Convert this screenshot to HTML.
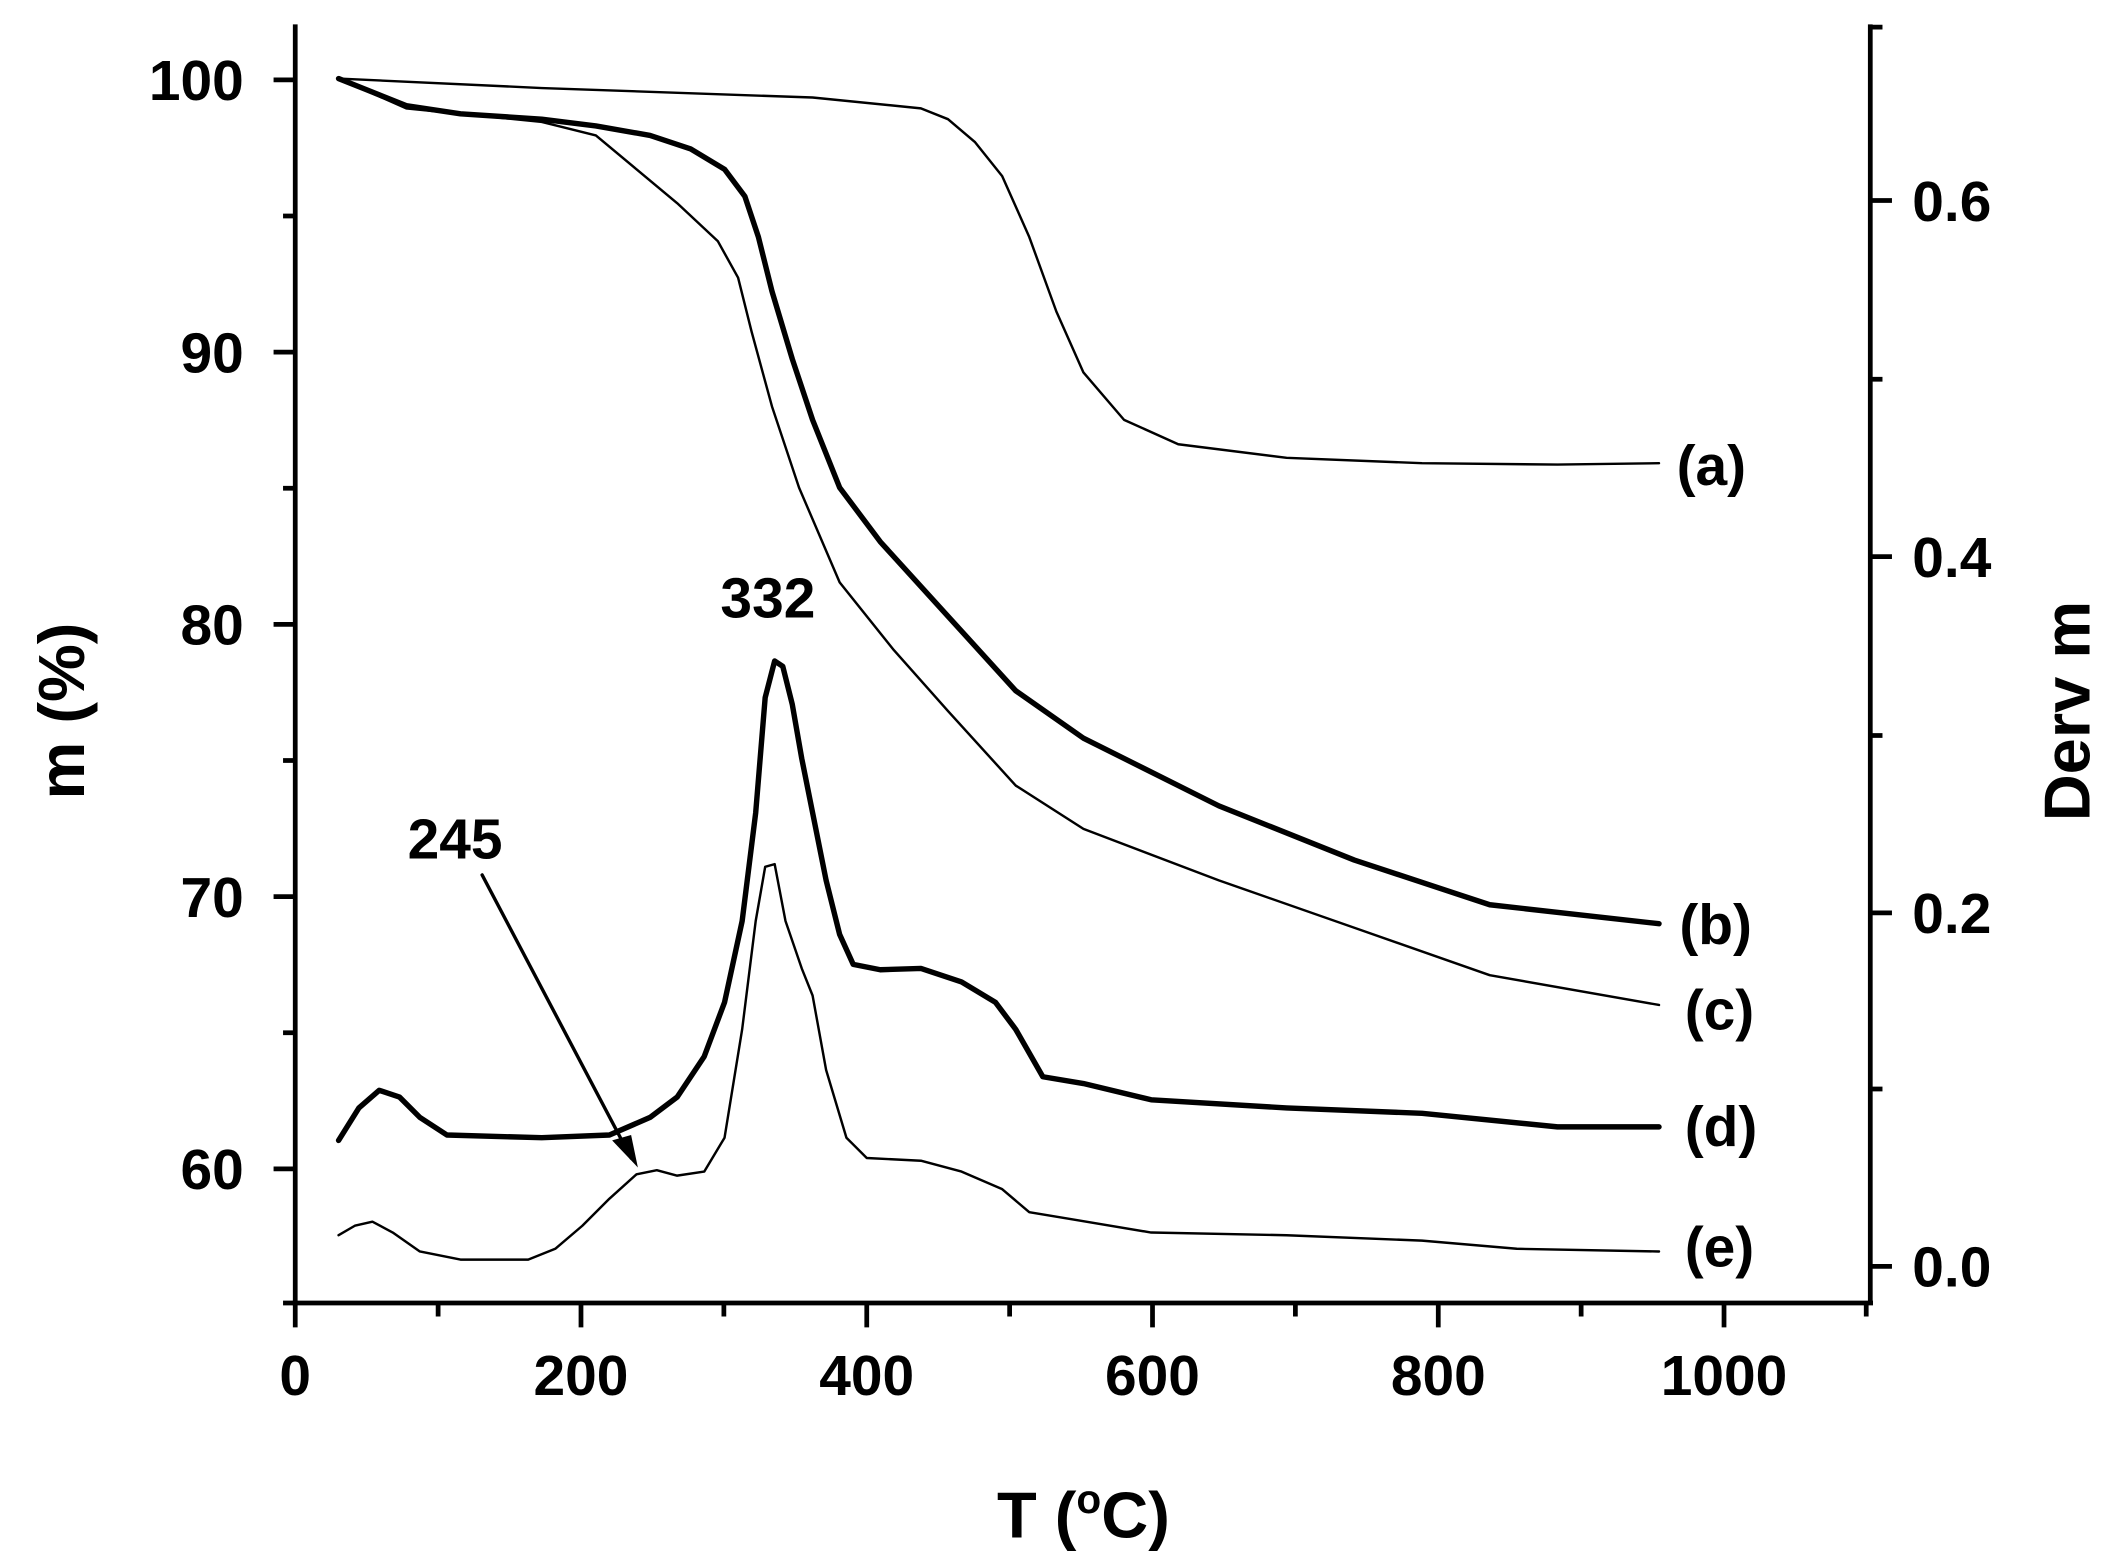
<!DOCTYPE html>
<html><head><style>html,body{margin:0;padding:0;background:#fff}svg{display:block}</style></head>
<body>
<svg width="2110" height="1563" viewBox="0 0 1558 1154" preserveAspectRatio="none" xmlns="http://www.w3.org/2000/svg" font-family="'Liberation Sans Narrow','Liberation Sans',sans-serif" font-weight="bold">
<g stroke="#000" stroke-width="3.5" fill="none">
<line x1="218" y1="18" x2="218" y2="963"/>
<line x1="216" y1="962" x2="1383" y2="962"/>
<line x1="1381" y1="18" x2="1381" y2="963"/>
<path d="M218 962v18M429 962v18M640 962v18M851 962v18M1062 962v18M1273 962v18M323.5 962v10M534.5 962v10M745.5 962v10M956.5 962v10M1167.5 962v10M1378 962v10"/>
<path d="M218 59h-16M218 260h-16M218 461h-16M218 662h-16M218 863h-16M218 159.5h-9M218 360.5h-9M218 561.5h-9M218 762.5h-9M218 962h-9"/>
<path d="M1381 935h16M1381 674h16M1381 411h16M1381 148h16M1381 804h9M1381 543h9M1381 280h9M1381 20h9"/>
</g>
<g font-size="42" text-anchor="end">
<text x="180" y="74">100</text><text x="180" y="275">90</text><text x="180" y="476">80</text><text x="180" y="677">70</text><text x="180" y="878">60</text>
</g>
<g font-size="42" text-anchor="start">
<text x="1412" y="950">0.0</text><text x="1412" y="689">0.2</text><text x="1412" y="426">0.4</text><text x="1412" y="163">0.6</text>
</g>
<g font-size="42" text-anchor="middle">
<text x="218" y="1030">0</text><text x="429" y="1030">200</text><text x="640" y="1030">400</text><text x="851" y="1030">600</text><text x="1062" y="1030">800</text><text x="1273" y="1030">1000</text>
</g>
<text x="800" y="1135" font-size="48" text-anchor="middle">T (<tspan font-size="30" dy="-18">o</tspan><tspan dy="18">C)</tspan></text>
<text transform="translate(62,525) rotate(-90)" font-size="48" text-anchor="middle">m (%)</text>
<text transform="translate(1543,525) rotate(-90)" font-size="48" text-anchor="middle">Derv m</text>
<g font-size="42">
<text x="1238" y="358">(a)</text><text x="1240" y="697">(b)</text><text x="1244" y="760">(c)</text><text x="1244" y="846">(d)</text><text x="1244" y="935">(e)</text>
<text x="336" y="634" text-anchor="middle">245</text><text x="567" y="456" text-anchor="middle">332</text>
</g>
<g fill="none" stroke="#000" stroke-linejoin="round" stroke-linecap="round">
<polyline stroke-width="1.8" points="250,58 400,65 600,72 680,80 700,88 720,105 740,130 760,175 780,230 800,275 830,310 870,328 950,338 1050,342 1150,343 1225,342"/>
<polyline stroke-width="4" points="250,58 270,66 300,78 340,84 400,88 440,93 480,100 510,110 535,125 550,145 560,175 570,215 585,265 600,310 620,360 650,400 700,455 750,510 800,545 900,595 1000,635 1100,668 1225,682"/>
<polyline stroke-width="1.8" points="250,58 300,80 400,90 440,100 470,125 500,150 530,178 545,205 555,245 570,300 590,360 620,430 660,480 700,525 750,580 800,612 900,650 1000,685 1100,720 1225,742"/>
<polyline stroke-width="4" points="250,842 265,818 280,805 295,810 310,825 330,838 400,840 450,838 480,825 500,810 520,780 535,740 548,680 558,600 565,515 572,488 578,492 585,520 592,560 600,600 610,650 620,690 630,712 650,716 680,715 710,725 735,740 750,760 770,795 800,800 850,812 950,818 1050,822 1150,832 1225,832"/>
<polyline stroke-width="1.8" points="250,912 262,905 275,902 290,910 310,924 340,930 390,930 410,922 430,905 450,885 470,867 485,864 500,868 520,865 535,840 548,760 558,680 565,640 572,638 580,680 592,715 600,735 610,790 625,840 640,855 680,857 710,865 740,878 760,895 790,900 850,910 950,912 1050,916 1120,922 1225,924"/>
<line x1="356" y1="646" x2="466" y2="855" stroke-width="2.5"/>
</g>
<polygon points="471,862 452,842 466,838" fill="#000"/>
</svg>
</body></html>
